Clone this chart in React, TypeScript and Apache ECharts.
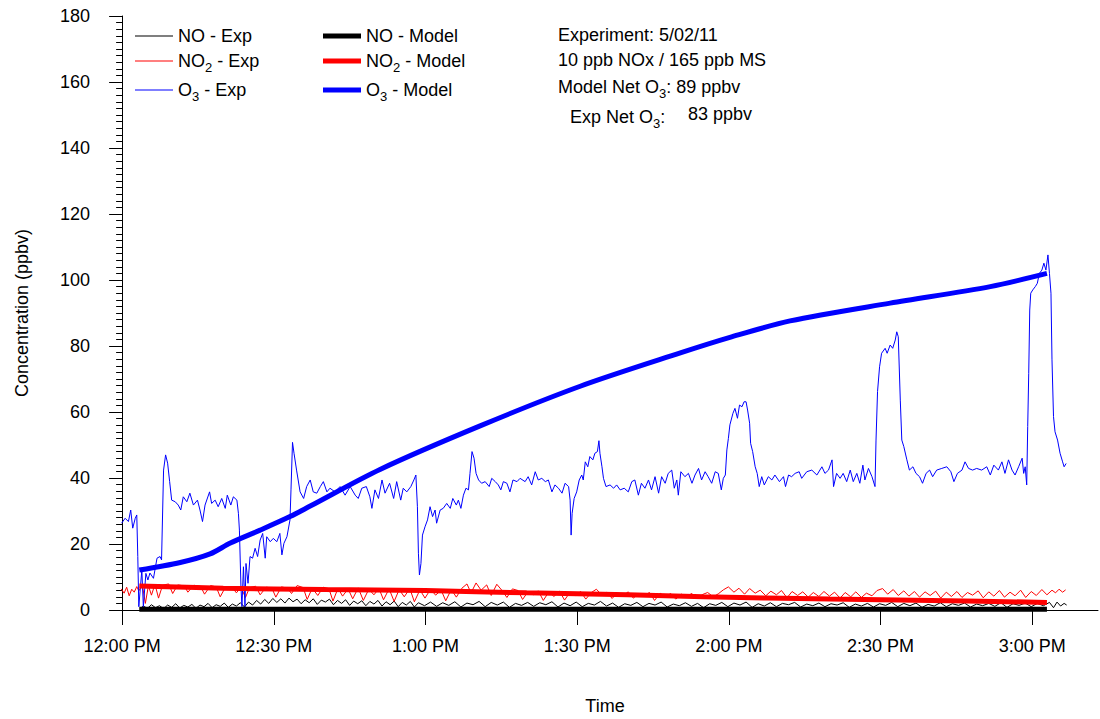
import React, { useEffect, useRef } from 'react';
import * as echarts from 'echarts';

// Time in minutes after 12:00 PM
const xTickMinutes = [0, 30, 60, 90, 120, 150, 180];
const xTickLabels = ['12:00 PM', '12:30 PM', '1:00 PM', '1:30 PM', '2:00 PM', '2:30 PM', '3:00 PM'];

const seriesNames = ['NO - Exp', 'NO2 - Exp', 'O3 - Exp', 'NO - Model', 'NO2 - Model', 'O3 - Model'];

const o3Exp: [number, number][] = [
  [-0.1,26.3],[0.6,27.8],[1.25,26.8],[1.7,30.3],[2.1,24.8],[2.6,27.8],[2.9,28.8],[3.1,16.2],[3.3,1.0],[3.9,12.1],[4.2,1.0],[4.7,11.1],[5.1,9.1],[5.5,11.2],[6.2,9.6],[6.9,15.7],[7.5,16.2],[7.8,15.2],[8.2,42.4],[8.6,47.0],[9.0,44.5],[9.4,38.9],[9.8,33.3],[10.5,32.8],[11.1,31.8],[11.6,30.3],[12.1,34.3],[12.8,32.8],[13.4,35.4],[14.1,31.8],[14.9,33.3],[15.4,30.3],[15.9,26.8],[16.4,31.8],[17.3,35.8],[17.7,32.3],[18.4,33.3],[19.0,31.3],[19.7,33.8],[20.4,30.8],[20.8,34.8],[21.5,31.8],[22.0,34.3],[22.7,33.3],[23.0,29.3],[23.2,24.2],[23.5,7.1],[23.7,1.0],[24.0,13.1],[24.3,1.0],[24.5,14.1],[24.9,8.1],[25.3,16.2],[25.8,15.7],[26.3,18.7],[26.8,16.2],[27.3,21.2],[27.8,23.2],[28.3,15.7],[28.6,22.2],[29.3,20.7],[29.9,21.7],[30.6,20.7],[31.2,23.2],[31.6,16.7],[32.0,20.2],[32.6,22.2],[33.2,27.3],[33.4,36.4],[33.7,50.8],[34.0,47.5],[34.5,42.4],[35.2,35.8],[35.9,33.8],[36.5,37.4],[37.2,39.4],[37.8,35.8],[38.5,35.4],[39.2,37.4],[39.8,38.9],[40.5,35.8],[41.1,36.9],[42.1,35.8],[43.1,37.4],[44.1,34.8],[45.1,37.4],[46.1,34.8],[46.7,33.8],[47.4,36.9],[48.3,37.4],[49.0,34.3],[49.4,30.8],[50.0,36.4],[50.7,33.8],[51.4,39.4],[52.0,35.4],[52.9,38.4],[53.7,33.8],[54.3,38.9],[55.1,33.3],[55.6,36.9],[56.3,35.8],[57.1,37.4],[57.7,39.4],[58.1,40.9],[58.4,31.3],[58.6,17.2],[58.8,10.6],[59.1,14.1],[59.4,22.7],[59.9,25.2],[60.4,27.3],[60.9,31.3],[61.4,28.3],[61.9,30.3],[62.2,26.3],[62.9,30.3],[63.5,30.8],[64.2,32.3],[64.9,30.8],[65.4,33.8],[66.1,31.8],[66.5,33.3],[67.0,30.8],[67.5,34.8],[68.0,36.9],[68.5,36.4],[68.8,41.4],[69.2,48.0],[69.6,46.0],[70.0,41.4],[70.5,39.4],[71.1,38.4],[71.8,38.9],[72.6,37.4],[73.1,39.9],[73.8,38.9],[74.4,37.9],[74.9,36.4],[75.4,38.9],[76.1,38.4],[76.7,35.8],[77.3,39.4],[78.1,38.9],[78.7,39.9],[79.7,38.9],[80.3,40.4],[81.0,37.9],[81.7,41.9],[82.3,39.4],[83.0,39.9],[83.7,38.9],[84.3,39.4],[85.0,35.8],[85.6,37.9],[86.3,36.9],[87.0,35.4],[87.6,38.4],[88.3,37.4],[88.6,33.3],[88.8,22.7],[89.0,29.3],[89.4,33.8],[89.9,35.8],[90.4,39.4],[90.9,40.9],[91.2,39.4],[91.6,44.9],[92.1,43.4],[92.5,46.5],[93.1,45.5],[93.5,47.5],[94.0,48.0],[94.3,51.3],[94.5,47.5],[94.9,43.4],[95.2,39.9],[95.7,37.4],[96.5,37.9],[97.2,36.9],[97.8,37.9],[98.5,36.4],[99.3,36.9],[100.1,35.8],[100.8,38.9],[101.4,39.4],[102.1,34.8],[102.7,38.4],[103.4,36.9],[104.1,39.4],[104.7,36.4],[105.4,40.4],[106.1,35.4],[106.7,40.4],[107.4,38.4],[108.0,41.4],[108.7,42.4],[109.2,36.9],[109.7,39.4],[110.0,34.8],[110.5,41.9],[111.3,40.4],[112.0,41.4],[112.7,38.4],[113.3,40.9],[114.0,42.9],[114.6,39.4],[115.3,41.9],[115.9,40.4],[116.6,38.4],[117.3,41.9],[117.9,41.4],[118.5,36.4],[118.9,39.9],[119.3,40.9],[119.6,48.5],[119.9,52.0],[120.2,56.1],[120.8,59.6],[121.2,61.1],[121.7,58.1],[122.1,62.1],[122.6,61.6],[123.0,63.1],[123.4,63.1],[123.7,60.6],[124.1,56.6],[124.3,50.5],[124.7,48.0],[125.2,43.4],[125.6,41.4],[126.0,37.4],[126.5,40.4],[127.0,37.9],[127.8,40.4],[128.5,39.4],[129.1,40.9],[130.0,38.9],[130.8,40.4],[131.2,37.4],[131.8,40.9],[132.4,40.4],[133.1,41.4],[133.9,41.9],[134.4,39.9],[135.4,41.9],[136.4,42.4],[137.4,40.9],[138.4,43.4],[139.0,41.4],[139.7,42.4],[140.4,45.5],[140.7,37.4],[141.3,41.4],[142.0,39.9],[142.6,41.4],[143.3,38.9],[144.0,42.4],[144.6,38.9],[145.3,41.4],[145.9,38.4],[146.5,43.9],[146.9,39.4],[147.6,42.9],[148.3,40.4],[148.9,37.4],[149.1,51.5],[149.4,66.2],[149.8,73.7],[150.2,77.8],[150.9,79.3],[151.3,77.8],[151.9,80.3],[152.4,79.3],[152.9,81.8],[153.2,84.3],[153.5,82.8],[153.9,63.6],[154.2,51.5],[154.6,49.5],[155.2,45.5],[155.7,42.4],[156.4,43.4],[157.0,41.4],[157.7,40.4],[158.3,38.4],[159.0,41.4],[159.7,42.4],[160.3,40.4],[161.1,42.4],[162.1,42.9],[163.1,43.4],[163.9,41.9],[164.5,38.9],[165.2,41.4],[166.1,42.4],[166.7,44.9],[167.4,42.9],[168.2,42.4],[169.0,42.9],[170.0,42.4],[171.0,43.4],[171.7,40.9],[172.4,43.9],[173.3,42.4],[174.0,44.9],[174.6,41.4],[175.3,45.5],[176.0,42.4],[176.6,40.9],[177.3,43.4],[178.0,46.0],[178.3,41.4],[178.6,43.4],[178.9,37.9],[179.1,55.6],[179.3,71.7],[179.5,90.9],[179.7,96.0],[180.1,97.0],[180.6,98.0],[181.0,99.0],[181.4,102.0],[181.9,103.0],[182.3,105.1],[182.7,103.0],[183.1,107.6],[183.4,102.0],[183.7,96.0],[183.9,75.8],[184.2,58.6],[184.5,54.0],[185.0,51.5],[185.5,47.5],[186.0,44.9],[186.3,43.4],[186.7,44.4]
];

const o3Model: [number, number][] = [
  [3.4,12.1],[11.5,14.4],[17.4,17.0],[21.4,20.3],[27.3,24.2],[33.2,28.3],[37.2,31.5],[51.0,42.6],[70.8,55.8],[90.6,67.8],[110.4,77.9],[120.2,82.6],[132.1,87.6],[151.9,93.0],[171.7,98.0],[182.9,102.0]
];

const no2Exp: [number, number][] = [
  [-0.2,6.4],[0.4,5.1],[0.9,6.9],[1.4,4.3],[1.9,6.3],[2.4,5.4],[2.9,7.1],[3.3,5.8],[4.0,7.6],[4.6,2.0],[5.2,7.4],[5.8,4.5],[6.5,7.8],[7.2,3.6],[8.0,7.5],[9.2,7.9],[10.0,5.0],[11.0,7.6],[12.3,7.3],[13.0,5.4],[14.2,7.5],[15.5,7.2],[16.3,4.8],[17.5,7.4],[18.6,7.0],[19.4,4.0],[20.5,7.1],[21.8,6.8],[22.6,5.2],[23.5,6.9],[24.4,3.8],[25.2,6.8],[26.4,7.2],[27.3,4.6],[28.5,6.9],[29.6,6.7],[30.4,3.9],[31.5,7.0],[32.7,6.6],[33.5,5.0],[34.6,7.4],[35.8,6.8],[36.6,3.2],[37.6,6.6],[38.7,4.4],[39.8,6.9],[40.9,6.5],[41.7,2.7],[42.7,6.6],[43.6,4.2],[44.7,6.4],[45.6,3.4],[46.7,6.7],[47.7,2.9],[48.8,6.3],[49.8,4.6],[50.8,6.5],[51.7,3.1],[52.8,6.4],[53.8,2.6],[54.8,6.2],[55.8,4.0],[56.9,6.5],[57.8,2.5],[58.9,6.1],[59.9,3.6],[61.0,6.3],[62.0,4.5],[63.1,6.0],[64.0,2.8],[65.1,6.2],[66.1,3.9],[67.2,6.6],[68.2,7.9],[69.0,5.2],[70.0,8.2],[71.0,6.0],[72.1,7.6],[73.0,4.4],[74.1,7.8],[75.2,5.8],[76.1,3.8],[77.2,6.4],[78.3,5.9],[79.2,3.2],[80.3,5.6],[81.3,4.6],[82.3,5.8],[83.3,2.9],[84.4,5.5],[85.4,4.1],[86.5,5.7],[87.5,3.0],[88.6,5.4],[89.6,4.4],[90.7,5.6],[91.7,3.3],[92.8,5.3],[93.8,6.3],[94.8,4.6],[95.9,5.4],[96.9,3.5],[98.0,5.2],[99.0,4.3],[100.1,5.5],[101.1,3.6],[102.2,5.0],[103.2,4.4],[104.3,5.3],[105.3,2.9],[106.4,5.1],[107.4,4.0],[108.5,5.0],[109.5,3.3],[110.6,4.8],[111.6,4.2],[112.7,5.0],[113.7,3.4],[114.8,4.7],[115.8,5.3],[116.9,4.0],[117.9,4.9],[118.9,6.1],[119.9,7.0],[121.0,5.4],[122.0,6.6],[123.1,4.8],[124.1,6.5],[125.2,5.1],[126.2,6.0],[127.3,4.3],[128.3,5.7],[129.4,4.6],[130.4,5.9],[131.5,3.7],[132.5,5.6],[133.6,4.4],[134.6,5.5],[135.7,3.9],[136.7,5.3],[137.8,4.1],[138.8,5.6],[139.9,4.2],[140.9,5.4],[142.0,3.6],[143.0,5.3],[144.1,4.0],[145.1,5.5],[146.2,3.8],[147.2,5.1],[148.3,4.3],[149.3,5.9],[150.4,6.5],[151.4,4.8],[152.5,6.2],[153.5,4.4],[154.6,5.8],[155.6,4.2],[156.7,5.6],[157.7,3.9],[158.8,5.5],[159.8,4.4],[160.9,5.7],[161.9,3.6],[163.0,5.4],[164.0,4.1],[165.1,5.6],[166.1,3.8],[167.2,5.3],[168.2,4.5],[169.3,5.8],[170.3,3.7],[171.4,5.5],[172.4,4.2],[173.5,5.9],[174.5,3.9],[175.6,5.4],[176.6,4.3],[177.7,6.0],[178.7,3.8],[179.8,5.6],[180.8,4.4],[181.9,6.2],[182.9,4.6],[183.9,6.0],[184.6,5.2],[185.3,6.3],[186.0,5.4],[186.6,6.1]
];

const no2Model: [number, number][] = [
  [3.4,7.3],[20.0,6.6],[40.0,6.2],[60.0,5.9],[80.0,5.2],[100.0,4.6],[115.0,4.0],[140.0,3.3],[160.0,2.9],[182.9,2.3]
];

const noExp: [number, number][] = [
  [3.5,0.4],[4.2,1.2],[5.0,0.5],[5.8,1.6],[6.6,0.7],[7.4,1.3],[8.2,0.4],[9.0,1.5],[9.8,0.8],[10.6,1.9],[11.4,0.6],[12.2,1.4],[13.0,0.9],[13.8,1.7],[14.6,0.5],[15.4,1.5],[16.2,1.0],[17.0,2.0],[17.8,0.7],[18.6,1.6],[19.4,1.1],[20.2,2.1],[21.0,0.8],[21.8,1.8],[22.6,1.2],[23.4,2.2],[24.2,0.9],[25.0,2.4],[25.8,1.5],[26.6,2.9],[27.4,1.8],[28.2,3.2],[29.0,2.0],[29.8,3.5],[30.6,2.3],[31.4,3.4],[32.2,2.1],[33.0,3.6],[33.8,2.5],[34.6,3.3],[35.4,1.9],[36.2,3.1],[37.0,2.2],[37.8,3.4],[38.6,1.7],[39.4,3.0],[40.2,2.4],[41.0,3.3],[41.8,1.6],[42.6,2.9],[43.4,2.0],[44.2,3.1],[45.0,1.4],[45.8,2.7],[46.6,1.9],[47.4,2.8],[48.2,1.3],[49.0,2.6],[49.8,1.8],[50.6,2.9],[51.4,1.2],[52.2,2.5],[53.0,1.6],[53.8,2.7],[54.6,1.0],[55.4,2.3],[56.2,1.5],[57.0,2.6],[57.8,0.9],[58.6,2.2],[59.8,1.3],[61.0,2.4],[62.2,1.1],[63.4,2.2],[64.6,1.4],[65.8,2.5],[67.0,0.9],[68.2,2.1],[69.4,1.6],[70.6,2.6],[71.8,1.0],[73.0,2.3],[74.2,1.5],[75.4,2.4],[76.6,0.8],[77.8,2.0],[79.0,1.4],[80.2,2.3],[81.4,1.1],[82.6,2.2],[83.8,1.6],[85.0,2.5],[86.2,0.9],[87.4,2.1],[88.6,1.3],[89.8,2.4],[91.0,1.0],[92.2,2.0],[93.4,1.5],[94.6,2.6],[95.8,1.2],[97.0,2.1],[98.2,0.8],[99.4,1.9],[100.6,1.4],[101.8,2.3],[103.0,1.0],[104.2,2.0],[105.4,1.5],[106.6,2.4],[107.8,0.9],[109.0,1.8],[110.2,1.3],[111.4,2.2],[112.6,1.1],[113.8,2.0],[115.0,0.7],[116.2,1.9],[117.4,1.4],[118.6,2.3],[119.8,1.0],[121.0,2.1],[122.2,1.5],[123.4,2.4],[124.6,0.8],[125.8,1.9],[127.0,1.2],[128.2,2.2],[129.4,1.0],[130.6,2.0],[131.8,1.6],[133.0,2.3],[134.2,0.9],[135.4,1.8],[136.6,1.3],[137.8,2.1],[139.0,1.0],[140.2,1.9],[141.4,1.5],[142.6,2.2],[143.8,0.8],[145.0,1.8],[146.2,1.2],[147.4,2.0],[148.6,0.9],[149.8,1.9],[151.0,1.4],[152.2,2.3],[153.4,1.0],[154.6,2.0],[155.8,1.3],[157.0,2.1],[158.2,0.8],[159.4,1.7],[160.6,1.2],[161.8,2.2],[163.0,1.0],[164.2,1.9],[165.4,1.4],[166.6,2.1],[167.8,0.9],[169.0,1.8],[170.2,1.3],[171.4,2.0],[172.6,1.1],[173.8,2.2],[175.0,0.8],[176.2,1.9],[177.4,1.4],[178.6,2.1],[179.8,1.0],[181.0,2.0],[182.2,1.3],[183.4,2.3],[184.2,0.7],[184.9,2.4],[185.6,1.2],[186.3,2.0],[186.8,1.5]
];

const noModel: [number, number][] = [
  [3.4,0.2],[60.0,0.2],[120.0,0.2],[182.9,0.2]
];

const FONT = 'Arial, "Liberation Sans", Helvetica, sans-serif';

const richStyles = {
  n: { fontSize: 18, fontFamily: FONT, color: '#000', lineHeight: 20 },
  s: { fontSize: 13, fontFamily: FONT, color: '#000', padding: [13, 0, 0, 0] },
};

function toRich(name: string): string {
  return '{n|' + name.replace(/(\d)/, '}{s|$1}{n|') + '}';
}

export default function App() {
  const ref = useRef<HTMLDivElement>(null);

  useEffect(() => {
    if (!ref.current) return;
    const chart = echarts.init(ref.current, undefined, { renderer: 'svg' });

    const mk = (name: string, data: [number, number][], color: string, width: number, z: number, smooth = false) => ({
      name,
      type: 'line',
      data,
      showSymbol: false,
      symbol: 'none',
      smooth: smooth ? 0.3 : false,
      lineStyle: { color, width },
      itemStyle: { color },
      z,
      silent: true,
    });

    const legendCommon = {
      orient: 'vertical',
      icon: 'rect',
      itemWidth: 38,
      itemGap: 7,
      selectedMode: false,
      textStyle: { fontSize: 18, fontFamily: FONT, color: '#000', rich: richStyles },
      formatter: (name: string) => toRich(name),
    };

    const textEl = (x: number, y: number, text: string) => ({
      type: 'text',
      x,
      y,
      style: {
        text,
        rich: richStyles,
        font: '18px ' + FONT,
        fill: '#000',
        verticalAlign: 'middle',
      },
    });

    chart.setOption({
      animation: false,
      backgroundColor: '#fff',
      grid: { left: 112, right: 2, top: 16, bottom: 109, containLabel: false, outerBoundsMode: 'none' },
      xAxis: {
        type: 'value',
        min: -2,
        max: 193,
        name: 'Time',
        nameLocation: 'middle',
        nameGap: 87,
        nameTextStyle: { fontSize: 18, fontFamily: FONT, color: '#000', verticalAlign: 'top' },
        axisLine: { show: true, onZero: false, lineStyle: { color: '#000', width: 1 } },
        axisTick: { show: true, length: 15, lineStyle: { color: '#000' }, customValues: xTickMinutes },
        axisLabel: {
          color: '#000',
          fontSize: 18,
          fontFamily: FONT,
          margin: 27,
          customValues: xTickMinutes,
          formatter: (v: number) => {
            const i = xTickMinutes.indexOf(Math.round(v));
            return i >= 0 ? xTickLabels[i] : '';
          },
        },
        splitLine: { show: false },
      },
      yAxis: {
        type: 'value',
        min: 0,
        max: 180,
        interval: 20,
        name: 'Concentration (ppbv)',
        nameLocation: 'middle',
        nameGap: 81,
        nameTextStyle: { fontSize: 18, fontFamily: FONT, color: '#000' },
        axisLine: { show: true, lineStyle: { color: '#000', width: 1 } },
        axisTick: { show: true, length: 13, lineStyle: { color: '#000' } },
        minorTick: { show: true, splitNumber: 10, length: 6, lineStyle: { color: '#000' } },
        axisLabel: { color: '#000', fontSize: 18, fontFamily: FONT, margin: 22 },
        splitLine: { show: false },
      },
      legend: [
        { ...legendCommon, left: 130, top: 22, itemHeight: 1, data: seriesNames.slice(0, 3) },
        { ...legendCommon, left: 318, top: 22, itemHeight: 5, data: seriesNames.slice(3, 6) },
      ],
      graphic: [
        textEl(558, 35, '{n|Experiment: 5/02/11}'),
        textEl(558, 60, '{n|10 ppb NOx / 165 ppb MS}'),
        textEl(558, 87, '{n|Model Net O}{s|3}{n|: 89 ppbv}'),
        textEl(570, 117, '{n|Exp Net O}{s|3}{n|:}'),
        textEl(688, 114, '{n|83 ppbv}'),
      ],
      series: [
        mk(seriesNames[0], noExp, '#000000', 1, 2),
        mk(seriesNames[1], no2Exp, '#ff0000', 1, 3),
        mk(seriesNames[2], o3Exp, '#0000ff', 1, 4),
        mk(seriesNames[3], noModel, '#000000', 5, 5),
        mk(seriesNames[4], no2Model, '#ff0000', 5, 6, true),
        mk(seriesNames[5], o3Model, '#0000ff', 5, 7, true),
      ],
    });

    return () => chart.dispose();
  }, []);

  return <div ref={ref} style={{ position: 'fixed', left: 0, top: 0, width: 1100, height: 719 }} />;
}
